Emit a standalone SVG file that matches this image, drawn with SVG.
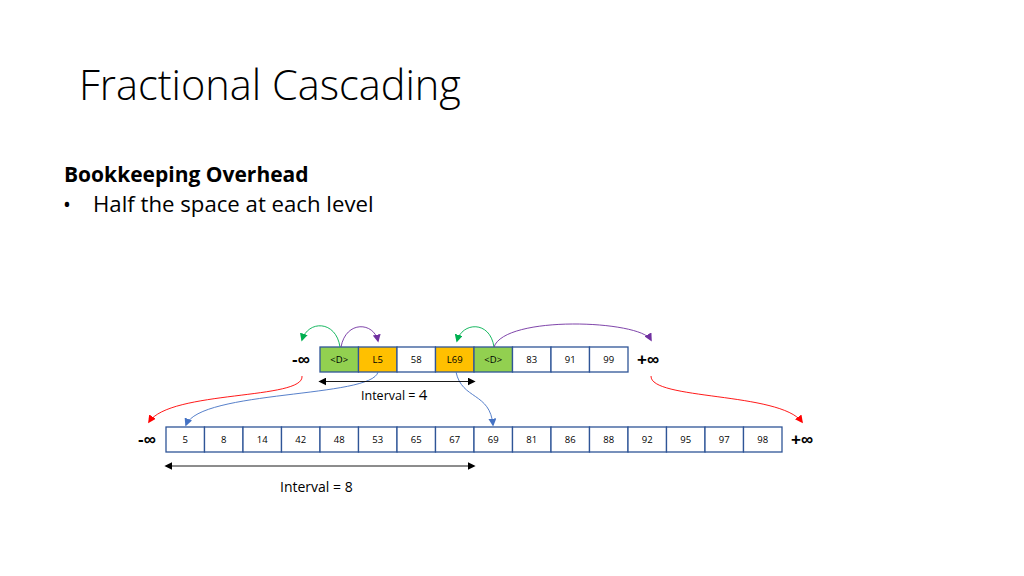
<svg xmlns="http://www.w3.org/2000/svg" width="1024" height="576" viewBox="0 0 1024 576">
<style>
.cell{stroke:#2F5597;stroke-width:1.3;fill:#fff}
.g{fill:#92D050}.o{fill:#FFC000}
.ct{font-family:"Open Sans","Liberation Sans",sans-serif;font-size:9.5px;text-anchor:middle;fill:#000}
.inf{font-family:"Liberation Sans",sans-serif;font-size:17px;font-weight:bold;text-anchor:middle;fill:#000}
.lbl{font-family:"Open Sans","Liberation Sans",sans-serif;fill:#000}
.c{fill:none;stroke-width:0.9}
</style>
<defs>
<marker id="ag" viewBox="0 0 10 10" refX="8" refY="5" markerWidth="8" markerHeight="8" orient="auto-start-reverse" markerUnits="userSpaceOnUse"><path d="M0,0 L10,5 L0,10 z" fill="#00B050"/></marker>
<marker id="ap" viewBox="0 0 10 10" refX="8" refY="5" markerWidth="8" markerHeight="8" orient="auto-start-reverse" markerUnits="userSpaceOnUse"><path d="M0,0 L10,5 L0,10 z" fill="#7030A0"/></marker>
<marker id="ar" viewBox="0 0 10 10" refX="8" refY="5" markerWidth="8" markerHeight="8" orient="auto-start-reverse" markerUnits="userSpaceOnUse"><path d="M0,0 L10,5 L0,10 z" fill="#FF0000"/></marker>
<marker id="ab" viewBox="0 0 10 10" refX="8" refY="5" markerWidth="8" markerHeight="8" orient="auto-start-reverse" markerUnits="userSpaceOnUse"><path d="M0,0 L10,5 L0,10 z" fill="#4472C4"/></marker>
<marker id="ak" viewBox="0 0 10 10" refX="8" refY="5" markerWidth="8" markerHeight="8" orient="auto-start-reverse" markerUnits="userSpaceOnUse"><path d="M0,0 L10,5 L0,10 z" fill="#000"/></marker>
</defs>
<rect width="1024" height="576" fill="#fff"/>
<text x="79" y="100" font-family="'Open Sans','Liberation Sans',sans-serif" font-weight="300" font-size="41.5" fill="#000">Fractional Cascading</text>
<text x="64" y="182" font-family="'Open Sans','Liberation Sans',sans-serif" font-weight="bold" font-size="21" fill="#000">Bookkeeping Overhead</text>
<text x="63" y="212" font-family="'Open Sans','Liberation Sans',sans-serif" font-size="21" fill="#000">•</text>
<text x="93" y="212" font-family="'Open Sans','Liberation Sans',sans-serif" font-size="22.2" fill="#000">Half the space at each level</text>

<g id="top-row">
<g id="t0"><rect class="cell g" x="320" y="347" width="38.5" height="25"/><text class="ct" x="339.2" y="363">&lt;D&gt;</text></g>
<g id="t1"><rect class="cell o" x="358.5" y="347" width="38.5" height="25"/><text class="ct" x="377.7" y="363">L5</text></g>
<g id="t2"><rect class="cell" x="397" y="347" width="38.5" height="25"/><text class="ct" x="416.2" y="363">58</text></g>
<g id="t3"><rect class="cell o" x="435.5" y="347" width="38.5" height="25"/><text class="ct" x="454.7" y="363">L69</text></g>
<g id="t4"><rect class="cell g" x="474" y="347" width="38.5" height="25"/><text class="ct" x="493.2" y="363">&lt;D&gt;</text></g>
<g id="t5"><rect class="cell" x="512.5" y="347" width="38.5" height="25"/><text class="ct" x="531.7" y="363">83</text></g>
<g id="t6"><rect class="cell" x="551" y="347" width="38.5" height="25"/><text class="ct" x="570.2" y="363">91</text></g>
<g id="t7"><rect class="cell" x="589.5" y="347" width="38.5" height="25"/><text class="ct" x="608.7" y="363">99</text></g>
<g id="tminf"><text class="inf" x="301" y="365">-∞</text></g>
<g id="tpinf"><text class="inf" x="648" y="365">+∞</text></g>
</g>

<g id="bottom-row">
<g id="b0"><rect class="cell" x="166" y="427" width="38.5" height="25"/><text class="ct" x="185.2" y="443">5</text></g>
<g id="b1"><rect class="cell" x="204.5" y="427" width="38.5" height="25"/><text class="ct" x="223.7" y="443">8</text></g>
<g id="b2"><rect class="cell" x="243" y="427" width="38.5" height="25"/><text class="ct" x="262.2" y="443">14</text></g>
<g id="b3"><rect class="cell" x="281.5" y="427" width="38.5" height="25"/><text class="ct" x="300.7" y="443">42</text></g>
<g id="b4"><rect class="cell" x="320" y="427" width="38.5" height="25"/><text class="ct" x="339.2" y="443">48</text></g>
<g id="b5"><rect class="cell" x="358.5" y="427" width="38.5" height="25"/><text class="ct" x="377.7" y="443">53</text></g>
<g id="b6"><rect class="cell" x="397" y="427" width="38.5" height="25"/><text class="ct" x="416.2" y="443">65</text></g>
<g id="b7"><rect class="cell" x="435.5" y="427" width="38.5" height="25"/><text class="ct" x="454.7" y="443">67</text></g>
<g id="b8"><rect class="cell" x="474" y="427" width="38.5" height="25"/><text class="ct" x="493.2" y="443">69</text></g>
<g id="b9"><rect class="cell" x="512.5" y="427" width="38.5" height="25"/><text class="ct" x="531.7" y="443">81</text></g>
<g id="b10"><rect class="cell" x="551" y="427" width="38.5" height="25"/><text class="ct" x="570.2" y="443">86</text></g>
<g id="b11"><rect class="cell" x="589.5" y="427" width="38.5" height="25"/><text class="ct" x="608.7" y="443">88</text></g>
<g id="b12"><rect class="cell" x="628" y="427" width="38.5" height="25"/><text class="ct" x="647.2" y="443">92</text></g>
<g id="b13"><rect class="cell" x="666.5" y="427" width="38.5" height="25"/><text class="ct" x="685.7" y="443">95</text></g>
<g id="b14"><rect class="cell" x="705" y="427" width="38.5" height="25"/><text class="ct" x="724.2" y="443">97</text></g>
<g id="b15"><rect class="cell" x="743.5" y="427" width="38.5" height="25"/><text class="ct" x="762.7" y="443">98</text></g>
<g id="bminf"><text class="inf" x="147" y="445">-∞</text></g>
<g id="bpinf"><text class="inf" x="802" y="445">+∞</text></g>
</g>

<g id="connectors">
<path class="c" stroke="#00B050" marker-end="url(#ag)" d="M340,347 C336,320 308,320 302,340"/>
<path class="c" stroke="#7030A0" marker-end="url(#ap)" d="M341,347 C346,320 374,322 378,341"/>
<path class="c" stroke="#00B050" marker-end="url(#ag)" d="M494,347 C490,320 462,322 457,341"/>
<path class="c" stroke="#7030A0" marker-end="url(#ap)" d="M494,347 C505,315 640,320 651,340"/>
<path class="c" stroke="#FF0000" marker-end="url(#ar)" d="M302,376 C305,400 170,390 149,422"/>
<path class="c" stroke="#4472C4" marker-end="url(#ab)" d="M378,372 C372,398 200,390 186,425"/>
<path class="c" stroke="#4472C4" marker-end="url(#ab)" d="M456,372 C462,400 490,392 493,425"/>
<path class="c" stroke="#FF0000" marker-end="url(#ar)" d="M651,376 C650,400 780,392 802,422"/>
<line stroke="#000" stroke-width="0.9" marker-start="url(#ak)" marker-end="url(#ak)" x1="320" y1="381.5" x2="474" y2="381.5"/>
<line stroke="#000" stroke-width="0.9" marker-start="url(#ak)" marker-end="url(#ak)" x1="166" y1="466" x2="474" y2="466"/>
</g>
<text class="lbl" x="361" y="400" style="font-size:12.5px">Interval = <tspan style="font-size:15px">4</tspan></text>
<text class="lbl" x="280" y="492" style="font-size:14px">Interval = 8</text>
</svg>
